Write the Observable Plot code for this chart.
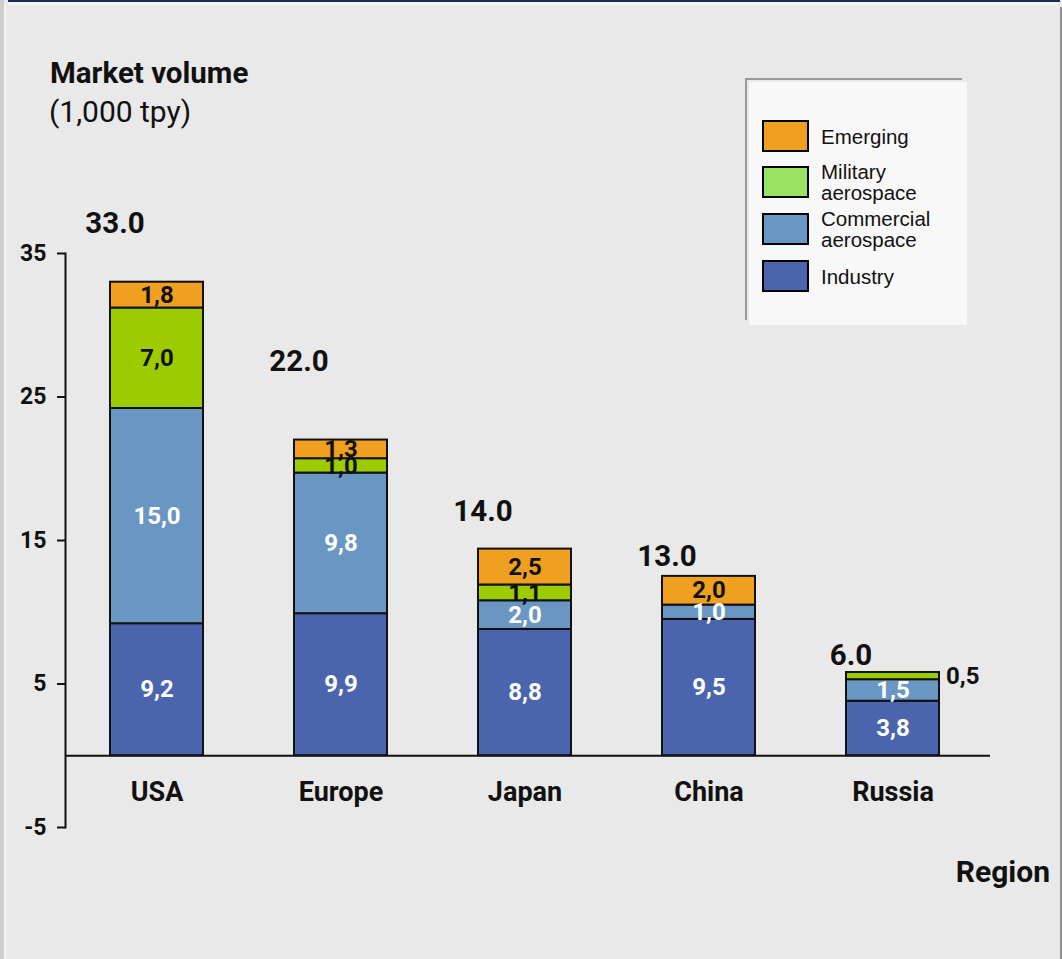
<!DOCTYPE html>
<html>
<head>
<meta charset="utf-8">
<script src="https://cdn.jsdelivr.net/npm/d3@7"></script>
<script src="https://cdn.jsdelivr.net/npm/@observablehq/plot@0.6"></script>
<style>
  html, body { margin: 0; padding: 0; }
  #page { position: relative; width: 1062px; height: 959px; background: #E9E9E9; overflow: hidden; font-family: Roboto, "Noto Sans", sans-serif; }
  .abs { position: absolute; }
  #topline { left: 8px; top: 0; width: 1052px; height: 2px; background: #1B2B52; }
  #topwhite { left: 8px; top: 2px; width: 1050px; height: 3px; background: #F3F3F3; }
  #leftgray { left: 0; top: 0; width: 4px; height: 959px; background: #CDCDCD; }
  #leftwhite { left: 4px; top: 3px; width: 2px; height: 956px; background: #F3F3F3; }
  #rightgray { left: 1060px; top: 7px; width: 2px; height: 952px; background: #8C8C8C; }
  #title { left: 50px; top: 58px; font-size: 29.5px; line-height: 30px; font-weight: 700; color: #111; white-space: nowrap; }
  #subtitle { left: 49px; top: 97px; font-size: 30px; line-height: 30px; font-weight: 400; color: #111; white-space: nowrap; }
  #xtitle { right: 12px; top: 857px; font-size: 30px; line-height: 30px; font-weight: 700; color: #111; }
  #legshadow { left: 745px; top: 78px; width: 217px; height: 242px; border-top: 2px solid #9A9A9A; border-left: 2px solid #9A9A9A; box-sizing: border-box; }
  #legbox { left: 749px; top: 82px; width: 218px; height: 243px; background: #F8F8F8; }
  .swatch { position: absolute; left: 762px; width: 47px; height: 32px; border: 2px solid #000; box-sizing: border-box; }
  .legtext { position: absolute; left: 821px; font-family: "Liberation Sans", Arial, sans-serif; font-size: 20.5px; line-height: 21px; color: #111; height: 42px; display: flex; align-items: center; }
  svg { position: absolute; left: 0; top: 0; }
</style>
</head>
<body>
<div id="page">
  <div class="abs" id="leftgray"></div>
  <div class="abs" id="leftwhite"></div>
  <div class="abs" id="topwhite"></div>
  <div class="abs" id="topline"></div>
  <div class="abs" id="rightgray"></div>
  <div class="abs" id="title">Market volume</div>
  <div class="abs" id="subtitle">(1,000 tpy)</div>
  <div class="abs" id="xtitle">Region</div>
  <div class="abs" id="legbox"></div>
  <div class="abs" id="legshadow"></div>
  <div id="legend"></div>
  <div id="chart"></div>
</div>
<script>
// ---- data ----
const regions = ["USA", "Europe", "Japan", "China", "Russia"];
const seriesNames = ["Industry", "Commercial aerospace", "Military aerospace", "Emerging"];
const industry   = [9.2, 9.9, 8.8, 9.5, 3.8];
const commercial = [15.0, 9.8, 2.0, 1.0, 1.5];
const military   = [7.0, 1.0, 1.1, 0, 0.5];
const emerging   = [1.8, 1.3, 2.5, 2.0, 0];
const totalLabels = ["33.0", "22.0", "14.0", "13.0", "6.0"];
const totalLabelPos = [37.1, 27.5, 17.0, 13.9, 7.0];
const yTicks = [-5, 5, 15, 25, 35];
const barColors = ["#4A64AD", "#6A96C4", "#9CCC00", "#F0A020"];
const legendColors = ["#4A64AD", "#6A96C4", "#98E362", "#F0A020"];
const legendLines = [["Industry"], ["Commercial", "aerospace"], ["Military", "aerospace"], ["Emerging"]];

// ---- build rows ----
const seriesValues = [industry, commercial, military, emerging];
const rows = [];
regions.forEach((r, i) => {
  let acc = 0;
  seriesValues.forEach((vals, j) => {
    const v = vals[i];
    if (v > 0) {
      rows.push({region: r, series: seriesNames[j], si: j, value: v, y1: acc, y2: acc + v, mid: acc + v / 2,
        label: v.toFixed(1).replace(".", ",")});
    }
    acc += v;
  });
});
const totals = regions.map((r, i) => ({region: r, label: totalLabels[i], pos: totalLabelPos[i]}));
const outside = d => d.region === "Russia" && d.si === 2;

const plot = Plot.plot({
  width: 1062,
  height: 959,
  marginTop: 253,
  marginBottom: 132,
  marginLeft: 65,
  marginRight: 72,
  style: {background: "transparent", fontFamily: "Roboto, 'Noto Sans', sans-serif", color: "#111"},
  x: {type: "band", domain: regions, paddingInner: 0.497, paddingOuter: 0.25, align: 0.47, axis: null},
  y: {domain: [-5, 35], axis: null},
  color: {domain: seriesNames, range: barColors},
  marks: [
    Plot.axisY({ticks: yTicks, tickSize: 8, tickPadding: 11, tickFormat: d => String(d), fontSize: 23, fontWeight: "bold", strokeWidth: 2, stroke: "#111", fill: "#111"}),
    Plot.frame({anchor: "left", stroke: "#111", strokeWidth: 2}),
    Plot.barY(rows, {x: "region", y1: "y1", y2: "y2", fill: "series", stroke: "#111", strokeWidth: 2}),
    Plot.ruleY([0], {stroke: "#111", strokeWidth: 2}),
    Plot.text(rows.filter(d => d.si < 2), {x: "region", y: "mid", text: "label", fill: "white", fontSize: 24, fontWeight: "bold"}),
    Plot.text(rows.filter(d => d.si >= 2 && !outside(d)), {x: "region", y: "mid", text: "label", fill: "#111", fontSize: 24, fontWeight: "bold"}),
    Plot.text(rows.filter(outside), {x: "region", y: "mid", text: "label", fill: "#111", fontSize: 24, fontWeight: "bold", textAnchor: "start", dx: 53}),
    Plot.text(totals, {x: "region", y: "pos", text: "label", fill: "#111", fontSize: 29.5, fontWeight: "bold", dx: -42}),
    Plot.text(regions, {x: d => d, text: d => d, frameAnchor: "bottom", dy: -27, fill: "#111", fontSize: 27, fontWeight: "bold"})
  ]
});
document.getElementById("chart").appendChild(plot);

// ---- legend ----
const leg = document.getElementById("legend");
const swatchTops = [260, 213, 166, 120];
seriesNames.forEach((s, j) => {
  const sw = document.createElement("div");
  sw.className = "swatch";
  sw.style.top = swatchTops[j] + "px";
  sw.style.background = legendColors[j];
  leg.appendChild(sw);
  const t = document.createElement("div");
  t.className = "legtext";
  t.style.top = (swatchTops[j] + 16 - 21) + "px";
  t.innerHTML = legendLines[j].join("<br>");
  leg.appendChild(t);
});
</script>
</body>
</html>
